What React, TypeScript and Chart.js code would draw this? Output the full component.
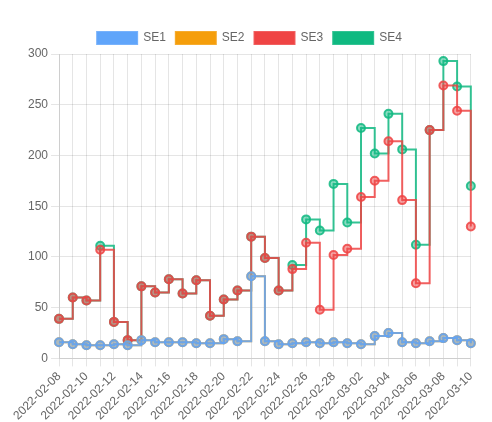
import React, { useEffect, useRef } from "react";
import { Chart, registerables } from "chart.js";

Chart.register(...registerables);

const dates = [
  "2022-02-08", "2022-02-09", "2022-02-10", "2022-02-11", "2022-02-12", "2022-02-13",
  "2022-02-14", "2022-02-15", "2022-02-16", "2022-02-17", "2022-02-18", "2022-02-19",
  "2022-02-20", "2022-02-21", "2022-02-22", "2022-02-23", "2022-02-24", "2022-02-25",
  "2022-02-26", "2022-02-27", "2022-02-28", "2022-03-01", "2022-03-02", "2022-03-03",
  "2022-03-04", "2022-03-05", "2022-03-06", "2022-03-07", "2022-03-08", "2022-03-09",
  "2022-03-10",
];

// stacked series
const se1 = [16, 14, 13, 13, 14, 13, 18, 16, 16, 16, 15, 15, 19, 17, 81, 17, 14, 15, 16, 15, 16, 15, 14, 22, 25, 16, 15, 17, 20, 18, 15];
const se2 = [0, 0, 0, 0, 0, 0, 0, 0, 0, 0, 0, 0, 0, 0, 0, 0, 0, 0, 0, 0, 0, 0, 0, 0, 0, 0, 0, 0, 0, 0, 0];
const se3 = [23, 46, 44, 94, 22, 5, 53, 49, 62, 48, 62, 27, 39, 50, 39, 82, 53, 73, 98, 33, 86, 93, 145, 153, 189, 140, 59, 208, 249, 226, 115];
const se4 = [0, 0, 0, 4, 0, 0, 0, 0, 0, 0, 0, 0, 0, 0, 0, 0, 0, 4, 23, 78, 70, 26, 68, 27, 27, 50, 38, 0, 24, 24, 40];

const series = [
  { label: "SE1", data: se1, rgb: "96,165,250" },
  { label: "SE2", data: se2, rgb: "245,158,11" },
  { label: "SE3", data: se3, rgb: "239,68,68" },
  { label: "SE4", data: se4, rgb: "16,185,129" },
];

const App: React.FC = () => {
  const canvasRef = useRef<HTMLCanvasElement | null>(null);

  useEffect(() => {
    if (!canvasRef.current) return;

    const chart = new Chart(canvasRef.current, {
      type: "line",
      data: {
        labels: dates,
        datasets: series.map((s) => ({
          label: s.label,
          data: s.data,
          stepped: true,
          backgroundColor: `rgb(${s.rgb})`,
          borderColor: `rgba(${s.rgb},0.85)`,
          borderWidth: 2,
          pointRadius: 4,
          pointBorderWidth: 2,
          pointBackgroundColor: `rgba(${s.rgb},0.5)`,
          pointBorderColor: `rgba(${s.rgb},0.85)`,
        })),
      },
      options: {
        animation: false,
        responsive: true,
        maintainAspectRatio: false,
        layout: { padding: { left: 17, top: 14, right: 10 } },
        plugins: {
          legend: { position: "top" },
          tooltip: { enabled: false },
        },
        scales: {
          x: {
            ticks: {
              autoSkip: false,
              minRotation: 45,
              maxRotation: 45,
              callback: (_v, i) => (i % 2 === 0 ? dates[i] : ""),
            },
          },
          y: {
            stacked: true,
            beginAtZero: true,
            max: 300,
            ticks: { stepSize: 50 },
          },
        },
      },
    });

    return () => chart.destroy();
  }, []);

  return (
    <div style={{ width: 476, height: 418 }}>
      <canvas ref={canvasRef}></canvas>
    </div>
  );
};

export default App;
